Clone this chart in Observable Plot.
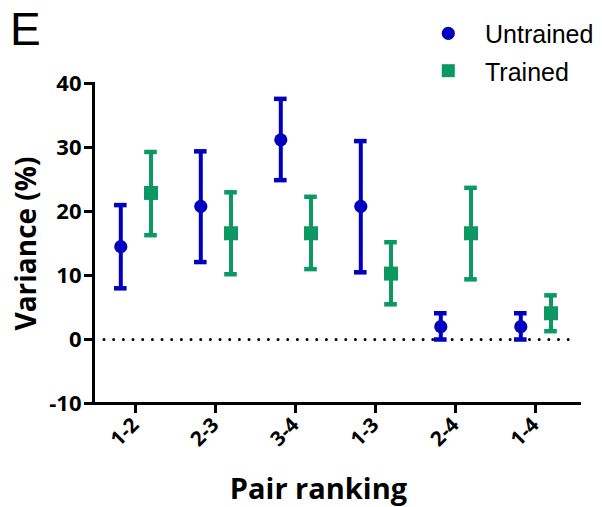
<!DOCTYPE html>
<html><head><meta charset="utf-8">
<script src="https://cdn.jsdelivr.net/npm/d3@7"></script>
<script src="https://cdn.jsdelivr.net/npm/@observablehq/plot@0.6"></script>
<style>
body{margin:0;background:#fff}
#chart svg{display:block}
g[aria-label="y-axis tick label"], g[aria-label="x-axis tick label"]{font-weight:bold}
</style></head><body><div id="chart"></div>
<script>
const pairs = ["1-2","2-3","3-4","1-3","2-4","1-4"];
const untrainedMean = [14.5, 20.8, 31.2, 20.8, 2.0, 2.0];
const untrainedLow  = [8.0, 12.1, 24.9, 10.5, 0.0, 0.0];
const untrainedHigh = [21.0, 29.4, 37.6, 31.0, 4.1, 4.1];
const trainedMean = [22.9, 16.6, 16.6, 10.3, 16.6, 4.1];
const trainedLow  = [16.3, 10.2, 11.0, 5.5, 9.4, 1.3];
const trainedHigh = [29.3, 23.0, 22.3, 15.2, 23.7, 6.9];
const yTicks = [-10, 0, 10, 20, 30, 40];
const seriesNames = ["Untrained", "Trained"];
const seriesColors = ["#0000BE", "#0B9863"];
const xTitle = "Pair ranking";
const yTitle = "Variance (%)";
const panelLabel = "E";

const series = [
  {name: seriesNames[0], color: seriesColors[0], symbol: "circle", r: 6.6, dx: -14.7, mean: untrainedMean, low: untrainedLow, high: untrainedHigh},
  {name: seriesNames[1], color: seriesColors[1], symbol: "square", r: 7.9, dx: 15.5, mean: trainedMean, low: trainedLow, high: trainedHigh}
];

const marks = [
  Plot.ruleY([0], {stroke: "black", strokeWidth: 3, strokeDasharray: "0 9.67", strokeLinecap: "round", insetLeft: 11, insetRight: 9}),
];
for (const s of series) {
  const rows = pairs.map((p, i) => ({pair: p, mean: s.mean[i], low: s.low[i], high: s.high[i]}));
  marks.push(
    Plot.ruleX(rows, {x: "pair", y1: "low", y2: "high", stroke: s.color, strokeWidth: 4, dx: s.dx}),
    Plot.tickY(rows, {x: "pair", y: "low", stroke: s.color, strokeWidth: 4.5, dx: s.dx, insetLeft: 33.7, insetRight: 33.7}),
    Plot.tickY(rows, {x: "pair", y: "high", stroke: s.color, strokeWidth: 4.5, dx: s.dx, insetLeft: 33.7, insetRight: 33.7}),
    Plot.dot(rows, {x: "pair", y: "mean", fill: s.color, symbol: s.symbol, r: s.r, dx: s.dx})
  );
}
marks.push(
  Plot.axisY({ticks: yTicks, tickFormat: d => String(d), tickSize: 9, strokeWidth: 3, tickPadding: 3, fontSize: 22, label: null}),
  Plot.axisX({tickSize: 10, strokeWidth: 3, tickRotate: -45, tickPadding: 8, fontSize: 20.5, label: null}),
  Plot.frame({anchor: "left", strokeWidth: 3}),
  Plot.frame({anchor: "bottom", strokeWidth: 3}),
  Plot.text([xTitle], {text: d => d, frameAnchor: "bottom", textAnchor: "middle", dx: -18, dy: 86.5, fontSize: 29, fontWeight: "bold", lineAnchor: "middle"}),
  Plot.text([yTitle], {text: d => d, frameAnchor: "left", textAnchor: "middle", dx: -66, dy: 0, rotate: -90, fontSize: 28, fontWeight: "bold", lineAnchor: "middle"})
);

const plot = Plot.plot({
  width: 602,
  height: 507,
  marginTop: 83,
  marginBottom: 104,
  marginLeft: 93,
  marginRight: 23,
  style: {fontFamily: "'Open Sans', sans-serif", color: "black", background: "white"},
  x: {type: "band", domain: pairs, range: [93.6, 576], padding: 0},
  y: {domain: [-10, 40]},
  marks
});

const svg = d3.select(plot);
svg.append("text").attr("x", 10).attr("y", 45).attr("text-anchor", "start").attr("font-size", 46)
  .attr("font-family", "'Liberation Sans', Arial, sans-serif").attr("fill", "black").text(panelLabel);
const leg = svg.append("g").attr("font-family", "'Liberation Sans', Arial, sans-serif").attr("font-size", 25).attr("text-anchor", "start");
leg.append("circle").attr("cx", 448.3).attr("cy", 33.3).attr("r", 6.6).attr("fill", seriesColors[0]);
leg.append("rect").attr("x", 441.8).attr("y", 64.2).attr("width", 13).attr("height", 13).attr("fill", seriesColors[1]);
leg.append("text").attr("x", 485).attr("y", 43.3).attr("fill", "black").text(seriesNames[0]);
leg.append("text").attr("x", 485).attr("y", 80.7).attr("fill", "black").text(seriesNames[1]);

document.getElementById("chart").appendChild(plot);
</script></body></html>
